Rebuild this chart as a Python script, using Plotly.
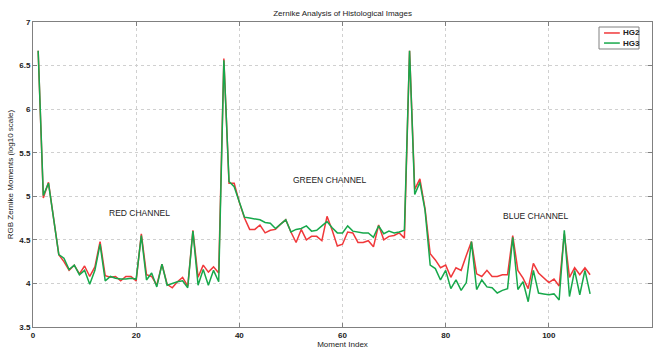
import plotly.graph_objects as go

moment_index = list(range(1, 109))

hg2 = [
    6.67, 4.98, 5.16, 4.74, 4.33, 4.25, 4.15, 4.21, 4.11, 4.20,
    4.08, 4.19, 4.48, 4.09, 4.07, 4.08, 4.03, 4.08, 4.08, 4.03,
    4.57, 4.10, 4.08, 3.98, 4.22, 3.99, 3.95, 4.02, 4.07, 3.97,
    4.61, 4.07, 4.21, 4.13, 4.19, 4.12, 6.58, 5.15, 5.15, 4.93,
    4.75, 4.62, 4.62, 4.67, 4.58, 4.61, 4.62, 4.68, 4.73, 4.59,
    4.47, 4.62, 4.50, 4.54, 4.54, 4.49, 4.77, 4.61, 4.43, 4.45,
    4.59, 4.58, 4.47, 4.47, 4.49, 4.42, 4.67, 4.50, 4.54, 4.55,
    4.58, 4.52, 6.67, 5.08, 5.20, 4.86, 4.34, 4.27, 4.18, 4.21,
    4.07, 4.18, 4.15, 4.32, 4.48, 4.11, 4.08, 4.15, 4.08, 4.08,
    4.10, 4.10, 4.55, 4.15, 4.06, 3.94, 4.23, 4.12, 4.06, 4.01,
    4.05, 3.97, 4.57, 4.07, 4.18, 4.10, 4.18, 4.10,
]

hg3 = [
    6.67, 5.01, 5.15, 4.74, 4.33, 4.29, 4.16, 4.21, 4.10, 4.15,
    3.99, 4.15, 4.45, 4.03, 4.08, 4.06, 4.05, 4.05, 4.06, 4.05,
    4.55, 4.04, 4.12, 3.96, 4.22, 3.98, 4.00, 4.02, 4.03, 3.95,
    4.60, 3.98, 4.16, 3.98, 4.15, 4.02, 6.56, 5.17, 5.11, 4.93,
    4.76, 4.75, 4.74, 4.73, 4.70, 4.69, 4.63, 4.68, 4.73, 4.59,
    4.62, 4.63, 4.66, 4.60, 4.61, 4.66, 4.71, 4.64, 4.58, 4.58,
    4.66, 4.60, 4.59, 4.58, 4.58, 4.53, 4.66, 4.57, 4.60, 4.58,
    4.59, 4.61, 6.67, 5.02, 5.16, 4.84, 4.21, 4.17, 4.04, 4.15,
    3.94, 4.04, 3.92, 4.01, 4.48, 3.93, 4.04, 3.96, 3.95, 3.89,
    3.92, 3.94, 4.53, 3.93, 4.02, 3.79, 4.15, 3.89, 3.88, 3.87,
    3.88, 3.81, 4.61, 3.85, 4.15, 3.87, 4.15, 3.88,
]

series_names = ["HG2", "HG3"]
series_colors = ["#f0383a", "#17a84b"]

channel_labels = ["RED CHANNEL", "GREEN CHANNEL", "BLUE CHANNEL"]
channel_label_x = [20.7, 57.5, 97.4]
channel_label_y = [4.81, 5.19, 4.77]

x_ticks = [0, 20, 40, 60, 80, 100, 120]
y_ticks = [3.5, 4, 4.5, 5, 5.5, 6, 6.5, 7]

FONT = "Liberation Sans, Arial, sans-serif"
txt = dict(family=FONT, size=8, color="#222222", weight="bold")

fig = go.Figure()
for name, vals, col in zip(series_names, [hg2, hg3], series_colors):
    fig.add_trace(go.Scatter(x=moment_index, y=vals, mode="lines", name=name,
                             line=dict(color=col, width=1.5), showlegend=False))

for lbl, lx, ly in zip(channel_labels, channel_label_x, channel_label_y):
    fig.add_annotation(x=lx, y=ly, xref="x", yref="y", text=lbl,
                       showarrow=False, font=dict(family=FONT, size=8.5, color="#222222"))

# compact MATLAB-style legend box (paper coordinates)
fig.add_shape(type="rect", xref="paper", yref="paper",
              x0=0.9144, x1=0.979, y0=0.9115, y1=0.9836,
              line=dict(color="#808080", width=1), fillcolor="white", layer="above")
legend_rows_y = [0.964, 0.931]
for name, col, ly in zip(series_names, series_colors, legend_rows_y):
    fig.add_shape(type="line", xref="paper", yref="paper",
                  x0=0.9225, x1=0.948, y0=ly, y1=ly,
                  line=dict(color=col, width=1.5), layer="above")
    fig.add_annotation(x=0.9495, y=ly, xref="paper", yref="paper", text=name,
                       showarrow=False, xanchor="left", yanchor="middle", font=txt)

axis_common = dict(
    showline=True, mirror="ticks", linecolor="#808080", linewidth=1,
    ticks="inside", ticklen=4, tickcolor="#808080",
    showgrid=True, gridcolor="#d0d0d0", griddash="dot", gridwidth=1,
    zeroline=False, tickfont=txt,
)

fig.update_layout(
    width=655, height=350,
    margin=dict(l=33, r=3, t=22, b=23),
    paper_bgcolor="white", plot_bgcolor="white",
    showlegend=False,
    title=dict(text="Zernike Analysis of Histological Images",
               x=0.523, xanchor="center", y=1 - 13 / 350, yanchor="middle",
               font=dict(family=FONT, size=8, color="#222222")),
    xaxis=dict(range=[0, 120], tickvals=x_ticks, ticktext=[str(v) for v in x_ticks],
               title=dict(text="Moment Index", font=dict(family=FONT, size=8, color="#222222"),
                          standoff=2),
               **axis_common),
    yaxis=dict(range=[3.5, 7], tickvals=y_ticks, ticktext=[f"{v:g}" for v in y_ticks],
               title=dict(text="RGB Zernike Moments (log10 scale)",
                          font=dict(family=FONT, size=8, color="#222222"), standoff=4),
               **axis_common),
)

fig.write_html("out.html")
